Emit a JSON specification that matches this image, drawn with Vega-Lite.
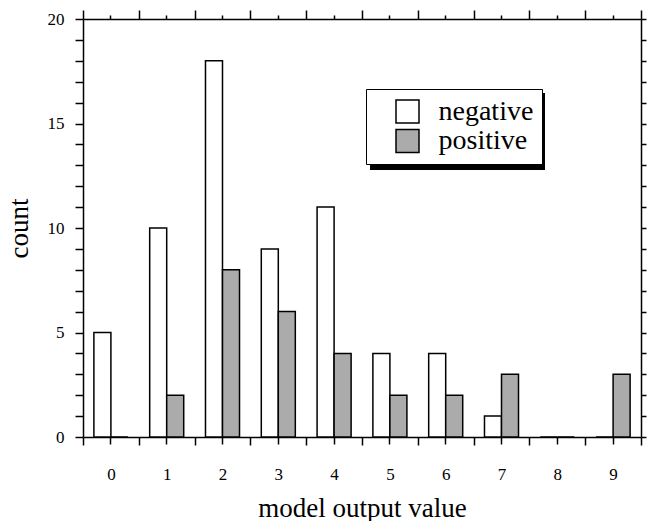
{
  "$schema": "https://vega.github.io/schema/vega-lite/v6.json",
  "width": 558,
  "height": 418,
  "autosize": {"type": "none"},
  "padding": {"left": 83, "top": 19, "right": 6, "bottom": 84},
  "config": {
    "font": "Liberation Serif",
    "view": {"stroke": null},
    "axis": {
      "domainColor": "black", "domainWidth": 1.5, "tickColor": "black", "tickWidth": 1.5,
      "labelColor": "black", "titleColor": "black", "grid": false,
      "labelFontSize": 17, "titleFontSize": 27, "titleFontWeight": "normal",
      "labelFont": "Liberation Serif", "titleFont": "Liberation Serif"
    }
  },
  "data": {
    "values": [
      {"value": 0, "group": "negative", "count": 5}, {"value": 0, "group": "positive", "count": 0},
      {"value": 1, "group": "negative", "count": 10}, {"value": 1, "group": "positive", "count": 2},
      {"value": 2, "group": "negative", "count": 18}, {"value": 2, "group": "positive", "count": 8},
      {"value": 3, "group": "negative", "count": 9}, {"value": 3, "group": "positive", "count": 6},
      {"value": 4, "group": "negative", "count": 11}, {"value": 4, "group": "positive", "count": 4},
      {"value": 5, "group": "negative", "count": 4}, {"value": 5, "group": "positive", "count": 2},
      {"value": 6, "group": "negative", "count": 4}, {"value": 6, "group": "positive", "count": 2},
      {"value": 7, "group": "negative", "count": 1}, {"value": 7, "group": "positive", "count": 3},
      {"value": 8, "group": "negative", "count": 0}, {"value": 8, "group": "positive", "count": 0},
      {"value": 9, "group": "negative", "count": 0}, {"value": 9, "group": "positive", "count": 3}
    ]
  },
  "layer": [
    {
      "mark": {"type": "bar", "stroke": "black", "strokeWidth": 1.5},
      "encoding": {
        "x": {
          "field": "value", "type": "ordinal",
          "scale": {"paddingInner": 0, "paddingOuter": 0},
          "axis": {
            "orient": "bottom", "tickBand": "extent", "tickSize": 8, "labelAngle": 0,
            "labelPadding": 21, "title": "model output value", "titlePadding": 13
          }
        },
        "xOffset": {
          "field": "group", "type": "nominal",
          "scale": {"domain": ["negative", "positive"], "paddingInner": 0, "paddingOuter": 0.64}
        },
        "y": {
          "field": "count", "type": "quantitative",
          "scale": {"domain": [0, 20], "nice": false},
          "axis": {
            "orient": "left",
            "values": [0,1,2,3,4,5,6,7,8,9,10,11,12,13,14,15,16,17,18,19,20],
            "labelExpr": "datum.value % 5 === 0 ? datum.label : ''",
            "tickSize": 8, "labelPadding": 11, "title": "count", "titlePadding": 14
          }
        },
        "color": {
          "field": "group", "type": "nominal",
          "scale": {"domain": ["negative", "positive"], "range": ["white", "#ababab"]},
          "legend": {
            "orient": "none", "legendX": 283, "legendY": 70, "title": null, "zindex": 5,
            "symbolType": "square", "symbolSize": 529, "symbolStrokeColor": "black", "symbolStrokeWidth": 1.5,
            "labelFontSize": 28, "labelFont": "Liberation Serif", "labelColor": "black",
            "labelOffset": 17, "rowPadding": -0.5, "padding": 8.5, "symbolOffset": 19,
            "fillColor": "white", "strokeColor": "black"
          }
        }
      }
    },
    {
      "mark": {"type": "bar", "opacity": 0},
      "encoding": {
        "x": {"field": "value", "type": "ordinal", "axis": {"orient": "bottom", "labels": false, "title": null, "domain": false, "tickSize": 7}},
        "y": {"field": "count", "type": "quantitative", "axis": null}
      }
    },
    {
      "mark": {"type": "bar", "opacity": 0},
      "encoding": {
        "x": {"field": "value", "type": "ordinal", "axis": {"orient": "top", "tickBand": "extent", "labels": false, "title": null, "tickSize": 9}},
        "y": {"field": "count", "type": "quantitative", "axis": null}
      }
    },
    {
      "mark": {"type": "bar", "opacity": 0},
      "encoding": {
        "x": {"field": "value", "type": "ordinal", "axis": {"orient": "top", "labels": false, "title": null, "domain": false, "tickSize": 4}},
        "y": {"field": "count", "type": "quantitative", "axis": null}
      }
    },
    {
      "mark": {"type": "bar", "opacity": 0},
      "encoding": {
        "x": {"field": "value", "type": "ordinal", "axis": null},
        "y": {
          "field": "count", "type": "quantitative",
          "axis": {"orient": "right", "values": [0,1,2,3,4,5,6,7,8,9,10,11,12,13,14,15,16,17,18,19,20], "labels": false, "title": null, "tickSize": 5}
        }
      }
    },
    {
      "mark": {"type": "bar", "opacity": 0},
      "encoding": {
        "x": {"field": "value", "type": "ordinal", "axis": null},
        "y": {"field": "count", "type": "quantitative", "axis": null},
        "fill": {
          "field": "count", "type": "quantitative",
          "scale": {"range": ["black", "black"]},
          "legend": {
            "orient": "none", "legendX": 287, "legendY": 74, "title": null, "zindex": 1,
            "labelExpr": "''", "padding": 0, "direction": "vertical",
            "gradientLength": 77, "gradientThickness": 175,
            "gradientStrokeColor": "black", "gradientStrokeWidth": 0
          }
        }
      }
    }
  ],
  "resolve": {"axis": {"x": "independent", "y": "independent"}}
}
